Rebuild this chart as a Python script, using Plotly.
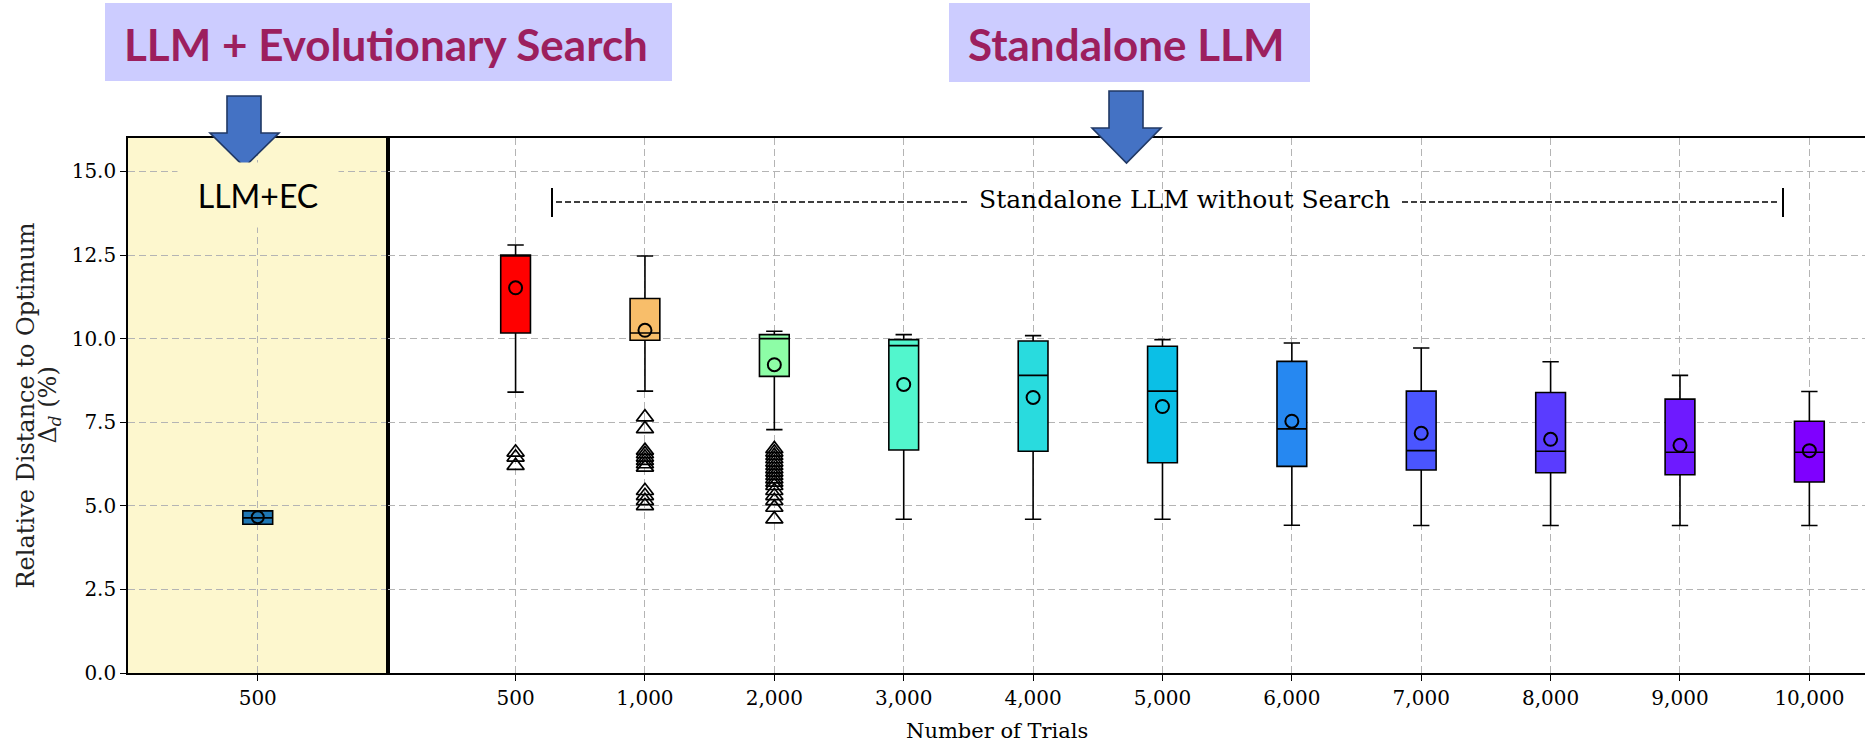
import plotly.graph_objects as go

# ---------------- data ----------------
ec_category = ["500"]
ec_q1 = [4.45]
ec_median = [4.64]
ec_q3 = [4.85]
ec_lower = [4.45]
ec_upper = [4.85]
ec_mean = [4.66]

trial_labels = ["500", "1,000", "2,000", "3,000", "4,000", "5,000",
                "6,000", "7,000", "8,000", "9,000", "10,000"]
upper_whisker = [12.80, 12.47, 10.22, 10.12, 10.09, 9.97, 9.87, 9.72, 9.31, 8.90, 8.42]
q3_values = [12.50, 11.20, 10.12, 9.97, 9.93, 9.77, 9.32, 8.43, 8.39, 8.19, 7.53]
median_values = [12.48, 10.17, 10.00, 9.79, 8.90, 8.43, 7.30, 6.65, 6.63, 6.60, 6.60]
q1_values = [10.17, 9.95, 8.87, 6.67, 6.63, 6.29, 6.18, 6.07, 5.99, 5.93, 5.71]
lower_whisker = [8.40, 8.43, 7.28, 4.60, 4.60, 4.60, 4.42, 4.41, 4.41, 4.41, 4.41]
mean_values = [11.52, 10.25, 9.22, 8.63, 8.24, 7.97, 7.53, 7.17, 6.99, 6.81, 6.65]

outliers_500 = [6.60, 6.45, 6.20]
outliers_1000 = [7.65, 7.30, 6.65, 6.55, 6.45, 6.35, 6.25, 6.15, 5.45, 5.30, 5.15, 5.00]
outliers_2000 = [6.70, 6.60, 6.50, 6.40, 6.30, 6.20, 6.10, 6.00, 5.90, 5.80,
                 5.70, 5.60, 5.45, 5.30, 5.15, 4.95, 4.60]

box_colors = ["#FF0000", "#F8BE6A", "#8DFDA6", "#52F6CD", "#29DBDE", "#0BBFE6",
              "#2688F1", "#4A55FF", "#5A3CFF", "#6E1AFF", "#7F00FF"]
ec_color = "#1F77B4"

y_ticks = [0.0, 2.5, 5.0, 7.5, 10.0, 12.5, 15.0]

# ---------------- layout geometry ----------------
W, H = 1865, 744
ML, MR, MT, MB = 128, 0, 138, 71
PW = W - ML - MR
PH = H - MT - MB


def px(x):
    return (x - ML) / PW


def py(y):
    return (H - MB - y) / PH


SPLIT = px(387.5)
SERIF = "DejaVu Serif"
GRID = "#B4B4B4"
YELLOW = "#FDF7CE"

fig = go.Figure()

# left panel: LLM+EC
fig.add_trace(go.Box(
    x=ec_category, q1=ec_q1, median=ec_median, q3=ec_q3,
    lowerfence=ec_lower, upperfence=ec_upper,
    xaxis="x", yaxis="y", width=0.23, whiskerwidth=0.55,
    fillcolor=ec_color, line=dict(color="black", width=1.6),
    boxpoints=False, showlegend=False, hoverinfo="y"))
fig.add_trace(go.Scatter(
    x=ec_category, y=ec_mean, mode="markers", xaxis="x", yaxis="y",
    marker=dict(symbol="circle-open", size=12, color="black", line=dict(width=2)),
    showlegend=False))

# right panel: standalone LLM
for i, lab in enumerate(trial_labels):
    fig.add_trace(go.Box(
        x=[lab], q1=[q1_values[i]], median=[median_values[i]], q3=[q3_values[i]],
        lowerfence=[lower_whisker[i]], upperfence=[upper_whisker[i]],
        xaxis="x2", yaxis="y2", width=0.23, whiskerwidth=0.55,
        fillcolor=box_colors[i], line=dict(color="black", width=1.6),
        boxpoints=False, showlegend=False, hoverinfo="y"))

fig.add_trace(go.Scatter(
    x=trial_labels, y=mean_values, mode="markers", xaxis="x2", yaxis="y2",
    marker=dict(symbol="circle-open", size=13, color="black", line=dict(width=2)),
    showlegend=False))

out_x = ([trial_labels[0]] * len(outliers_500) + [trial_labels[1]] * len(outliers_1000)
         + [trial_labels[2]] * len(outliers_2000))
out_y = outliers_500 + outliers_1000 + outliers_2000
fig.add_trace(go.Scatter(
    x=out_x, y=out_y, mode="markers", xaxis="x2", yaxis="y2",
    marker=dict(symbol="triangle-up-open", size=15, color="black", line=dict(width=1.7)),
    showlegend=False))

axis_common = dict(
    showgrid=True, gridcolor=GRID, griddash="7px,4px", gridwidth=1,
    showline=True, linecolor="black", linewidth=1.6,
    ticks="outside", ticklen=6, tickcolor="black",
    tickfont=dict(family=SERIF, size=20, color="black"),
    zeroline=False,
)

fig.update_layout(
    width=W, height=H,
    margin=dict(l=ML, r=MR, t=MT, b=MB),
    paper_bgcolor="white", plot_bgcolor="white",
    boxmode="overlay",
    xaxis=dict(domain=[0, SPLIT], type="category", categoryorder="array",
               categoryarray=ec_category, range=[-1, 1], mirror=True, **axis_common),
    xaxis2=dict(domain=[SPLIT, 1], type="category", categoryorder="array",
                categoryarray=trial_labels, range=[-0.99, 10.43], mirror=True,
                anchor="y2", **axis_common),
    yaxis=dict(domain=[0, 1], range=[0, 16], tickvals=y_ticks,
               ticktext=[f"{v:.1f}" for v in y_ticks], mirror=True, anchor="x", **axis_common),
    yaxis2=dict(domain=[0, 1], range=[0, 16], tickvals=y_ticks, anchor="x2",
                showticklabels=False, **{k: v for k, v in axis_common.items() if k not in ("ticks",)},
                ticks=""),
)

shapes = []
# yellow background for LLM+EC panel
shapes.append(dict(type="rect", xref="x domain", yref="y domain", x0=0, x1=1, y0=0, y1=1,
                   fillcolor=YELLOW, line=dict(width=0), layer="below"))

# header boxes
shapes.append(dict(type="rect", xref="paper", yref="paper",
                   x0=px(105), x1=px(672), y0=py(81), y1=py(3),
                   fillcolor="#CCCCFF", line=dict(width=0), layer="above"))
shapes.append(dict(type="rect", xref="paper", yref="paper",
                   x0=px(949), x1=px(1310), y0=py(82), y1=py(3),
                   fillcolor="#CCCCFF", line=dict(width=0), layer="above"))


def arrow_path(sl, sr, top, hy, hl, hr, tipx, tipy):
    pts = [(sl, top), (sr, top), (sr, hy), (hr, hy), (tipx, tipy), (hl, hy), (sl, hy)]
    return "M " + " L ".join(f"{px(a):.5f},{py(b):.5f}" for a, b in pts) + " Z"


for p in (arrow_path(227, 261, 96, 133, 210, 279, 244.5, 167),
          arrow_path(1109, 1143, 91, 128, 1092, 1161, 1126.5, 163)):
    shapes.append(dict(type="path", xref="paper", yref="paper", path=p,
                       fillcolor="#4472C4", line=dict(color="#203864", width=1.6),
                       layer="above"))

# bracket for "Standalone LLM without Search"
shapes.append(dict(type="line", xref="paper", yref="paper", x0=px(552), x1=px(552),
                   y0=py(188), y1=py(217), line=dict(color="black", width=2)))
shapes.append(dict(type="line", xref="paper", yref="paper", x0=px(1783), x1=px(1783),
                   y0=py(188), y1=py(217), line=dict(color="black", width=2)))
shapes.append(dict(type="line", xref="paper", yref="paper", x0=px(556), x1=px(968),
                   y0=py(202), y1=py(202), line=dict(color="black", width=1.5, dash="6px,3px")))
shapes.append(dict(type="line", xref="paper", yref="paper", x0=px(1402), x1=px(1779),
                   y0=py(202), y1=py(202), line=dict(color="black", width=1.5, dash="6px,3px")))
fig.update_layout(shapes=shapes)

ann = []
ann.append(dict(xref="paper", yref="paper", x=px(385.5), y=py(44), showarrow=False,
                text="<b>LLM + Evolutionary Search</b>", xanchor="center", yanchor="middle",
                font=dict(family="Lato", size=44, color="#9C1F5E")))
ann.append(dict(xref="paper", yref="paper", x=px(1126), y=py(44), showarrow=False,
                text="<b>Standalone LLM</b>", xanchor="center", yanchor="middle",
                font=dict(family="Lato", size=44, color="#9C1F5E")))
ann.append(dict(xref="x", yref="y", x=0, y=14.3, showarrow=False, text="LLM+EC",
                xanchor="center", yanchor="middle", width=160, height=64, borderpad=0,
                bgcolor=YELLOW, font=dict(family="Lato", size=32, color="black")))
ann.append(dict(xref="paper", yref="paper", x=px(1184), y=py(200), showarrow=False,
                text="Standalone LLM without Search", xanchor="center", yanchor="middle",
                font=dict(family=SERIF, size=25, color="black")))
ann.append(dict(xref="paper", yref="paper", x=px(25), y=0.5, showarrow=False,
                text="Relative Distance to Optimum",
                textangle=-90, xanchor="center", yanchor="middle",
                font=dict(family=SERIF, size=24, color="#222222")))
ann.append(dict(xref="paper", yref="paper", x=px(49), y=0.5, showarrow=False,
                text="Δ<sub><i>d</i></sub> (%)",
                textangle=-90, xanchor="center", yanchor="middle",
                font=dict(family=SERIF, size=24, color="#222222")))
ann.append(dict(xref="paper", yref="paper", x=0.5, y=py(731), showarrow=False,
                text="Number of Trials", xanchor="center", yanchor="middle",
                font=dict(family=SERIF, size=21, color="black")))
fig.update_layout(annotations=ann)

fig.write_html("out.html", config={"displayModeBar": False},
               post_script="document.body.style.margin='0px';")
